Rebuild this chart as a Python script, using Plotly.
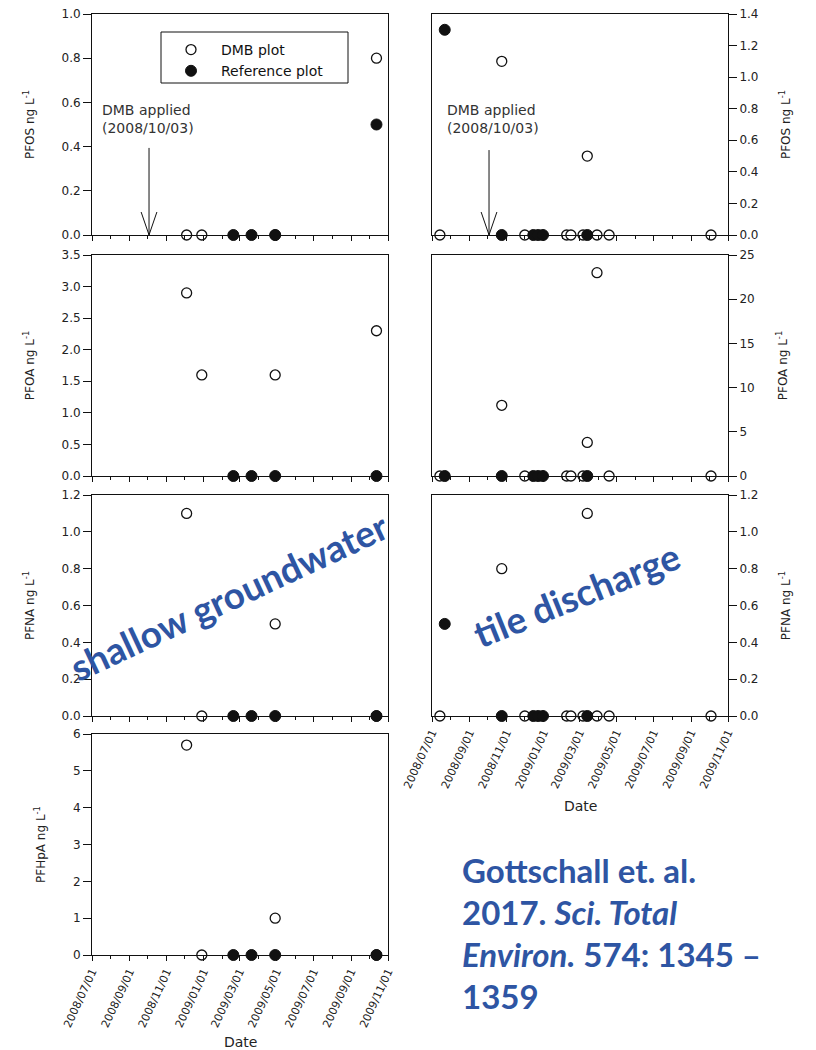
import plotly.graph_objects as go

# ---------------- data ----------------
# shallow groundwater (left column)
gw_dmb_dates = ["2008-12-04", "2008-12-29", "2009-04-29", "2009-10-13"]
gw_ref_dates = ["2009-02-19", "2009-03-21", "2009-04-29", "2009-10-13"]
gw_pfos_dmb = [0.0, 0.0, 0.0, 0.8]
gw_pfos_ref = [0.0, 0.0, 0.0, 0.5]
gw_pfoa_dmb = [2.9, 1.6, 1.6, 2.3]
gw_pfoa_ref = [0.0, 0.0, 0.0, 0.0]
gw_pfna_dmb = [1.1, 0.0, 0.5, 0.0]
gw_pfna_ref = [0.0, 0.0, 0.0, 0.0]
gw_pfhpa_dmb = [5.7, 0.0, 1.0, 0.0]
gw_pfhpa_ref = [0.0, 0.0, 0.0, 0.0]

# tile discharge (right column)
td_dmb_dates = ["2008-07-14", "2008-10-24", "2008-12-01", "2009-02-08", "2009-02-15",
                "2009-03-07", "2009-03-14", "2009-03-30", "2009-04-19", "2009-10-04"]
td_ref_dates = ["2008-07-22", "2008-10-24", "2008-12-15", "2008-12-23", "2008-12-31",
                "2009-03-14"]
td_pfos_dmb = [0.0, 1.1, 0.0, 0.0, 0.0, 0.0, 0.5, 0.0, 0.0, 0.0]
td_pfos_ref = [1.3, 0.0, 0.0, 0.0, 0.0, 0.0]
td_pfoa_dmb = [0.0, 8.0, 0.0, 0.0, 0.0, 0.0, 3.8, 23.0, 0.0, 0.0]
td_pfoa_ref = [0.0, 0.0, 0.0, 0.0, 0.0, 0.0]
td_pfna_dmb = [0.0, 0.8, 0.0, 0.0, 0.0, 0.0, 1.1, 0.0, 0.0, 0.0]
td_pfna_ref = [0.5, 0.0, 0.0, 0.0, 0.0, 0.0]

dmb_applied = "2008-10-03"
x_range = ["2008-07-01", "2009-11-01"]
series_names = ["DMB plot", "Reference plot"]

# ---------------- layout helpers ----------------
W, H = 816, 1050
PAGE_OFF = 8  # default body margin of the html page


def px(x):
    return (x - PAGE_OFF) / W


def py(y):
    return 1 - (y - PAGE_OFF) / H


FONT = "DejaVu Sans, sans-serif"
BLUE = "#2E55A3"

left_x = [px(92), px(388)]
right_x = [px(432), px(728)]
rows_y = [[py(235), py(14)], [py(476), py(255)], [py(716), py(495)], [py(955), py(734)]]

panels = [
    # (col, row, dmb dates, dmb vals, ref dates, ref vals, ymax, dtick, fmt, title, show x labels)
    ("L", 0, gw_dmb_dates, gw_pfos_dmb, gw_ref_dates, gw_pfos_ref, 1.0, 0.2, ".1f", "PFOS ng L<sup>-1</sup>", False),
    ("L", 1, gw_dmb_dates, gw_pfoa_dmb, gw_ref_dates, gw_pfoa_ref, 3.5, 0.5, ".1f", "PFOA ng L<sup>-1</sup>", False),
    ("L", 2, gw_dmb_dates, gw_pfna_dmb, gw_ref_dates, gw_pfna_ref, 1.2, 0.2, ".1f", "PFNA ng L<sup>-1</sup>", False),
    ("L", 3, gw_dmb_dates, gw_pfhpa_dmb, gw_ref_dates, gw_pfhpa_ref, 6, 1, "d", "PFHpA ng L<sup>-1</sup>", True),
    ("R", 0, td_dmb_dates, td_pfos_dmb, td_ref_dates, td_pfos_ref, 1.4, 0.2, ".1f", "PFOS ng L<sup>-1</sup>", False),
    ("R", 1, td_dmb_dates, td_pfoa_dmb, td_ref_dates, td_pfoa_ref, 25, 5, "d", "PFOA ng L<sup>-1</sup>", False),
    ("R", 2, td_dmb_dates, td_pfna_dmb, td_ref_dates, td_pfna_ref, 1.2, 0.2, ".1f", "PFNA ng L<sup>-1</sup>", True),
]

fig = go.Figure()
layout = {}
ytickfont = dict(family=FONT, size=12, color="#222")
xtickfont = dict(family=FONT, size=11, color="#222")

for i, (col, row, dd, dv, rd, rv, ymax, dt, fmt, title, showx) in enumerate(panels):
    n = i + 1
    xa = "x" if n == 1 else f"x{n}"
    ya = "y" if n == 1 else f"y{n}"
    fig.add_trace(go.Scatter(
        x=dd, y=dv, mode="markers", name=series_names[0],
        showlegend=(n == 1), xaxis=xa, yaxis=ya, cliponaxis=False,
        marker=dict(symbol="circle", size=10, color="white",
                    line=dict(color="#111", width=1.3))))
    fig.add_trace(go.Scatter(
        x=rd, y=rv, mode="markers", name=series_names[1],
        showlegend=(n == 1), xaxis=xa, yaxis=ya, cliponaxis=False,
        marker=dict(symbol="circle", size=11, color="#111",
                    line=dict(color="#111", width=1))))
    layout[f"xaxis{n}" if n > 1 else "xaxis"] = dict(
        type="date", range=x_range, domain=left_x if col == "L" else right_x,
        anchor=ya, showline=True, linecolor="#111", linewidth=1, mirror=True,
        ticks="outside", ticklen=5, tickcolor="#111", tickwidth=1,
        dtick="M2", tick0="2008-07-01", tickformat="%Y/%m/%d", tickangle=-65,
        showticklabels=showx, tickfont=xtickfont, automargin=False,
        ticklabeloverflow="allow",
        minor=dict(dtick="M1", tick0="2008-07-01", ticks="outside", ticklen=3,
                   tickcolor="#111", showgrid=False),
        showgrid=False, zeroline=False)
    layout[f"yaxis{n}" if n > 1 else "yaxis"] = dict(
        range=[0, ymax], dtick=dt, tick0=0, tickformat=fmt,
        domain=rows_y[row], anchor=xa, side="left" if col == "L" else "right",
        showline=True, linecolor="#111", linewidth=1, mirror=True,
        ticks="outside", ticklen=8, tickcolor="#111", tickwidth=1,
        tickfont=ytickfont, showgrid=False, zeroline=False, automargin=False,
        ticklabeloverflow="allow",
        title=dict(text=title, font=dict(family=FONT, size=12, color="#222"),
                   standoff=24))

fig.update_layout(**layout)

# DMB applied arrows (vertical line + open V head)
shapes = []
annots = []
for xa, ya, top, ymax, tx in [("x", "y", 0.394, 1.0, 100), ("x5", "y5", 0.538, 1.4, 445)]:
    arm_h = 0.104 * ymax
    shapes.append(dict(type="line", xref=xa, yref=ya, x0=dmb_applied, x1=dmb_applied,
                       y0=top, y1=0, line=dict(color="#111", width=1)))
    for side in ["2008-09-20", "2008-10-16"]:
        shapes.append(dict(type="line", xref=xa, yref=ya, x0=side, x1=dmb_applied,
                           y0=arm_h, y1=0, line=dict(color="#111", width=1)))
    annots.append(dict(xref="paper", yref="paper", x=px(tx), y=py(119), xanchor="left",
                       yanchor="middle", showarrow=False, align="left",
                       text="DMB applied<br>(" + dmb_applied.replace("-", "/") + ")",
                       font=dict(family=FONT, size=14, color="#333")))

# legend frame
shapes.append(dict(type="rect", xref="paper", yref="paper", x0=px(161), x1=px(348),
                   y0=py(83), y1=py(32), line=dict(color="#111", width=1),
                   fillcolor="white", layer="below"))

# Date axis titles
annots.append(dict(xref="paper", yref="paper", x=px(240), y=py(1042), showarrow=False,
                   xanchor="center", yanchor="middle",
                   text="Date", font=dict(family=FONT, size=14, color="#222")))
annots.append(dict(xref="paper", yref="paper", x=px(580), y=py(806), showarrow=False,
                   xanchor="center", yanchor="middle",
                   text="Date", font=dict(family=FONT, size=14, color="#222")))

# overlay labels
annots.append(dict(xref="paper", yref="paper", x=px(228), y=py(596), showarrow=False,
                   xanchor="center", yanchor="middle",
                   text="<b>shallow groundwater</b>", textangle=-25,
                   font=dict(family="Lato", size=37, color=BLUE)))
annots.append(dict(xref="paper", yref="paper", x=px(576), y=py(594), showarrow=False,
                   xanchor="center", yanchor="middle",
                   text="<b>tile discharge</b>", textangle=-22,
                   font=dict(family="Lato", size=37, color=BLUE)))

# citation
cite_lines = ["<b>Gottschall et. al.</b>",
              "<b>2017. <i>Sci. Total</i></b>",
              "<b><i>Environ.</i> 574: 1345 –</b>",
              "<b>1359</b>"]
for k, line in enumerate(cite_lines):
    annots.append(dict(xref="paper", yref="paper", x=px(460), y=py(870 + 42 * k),
                       xanchor="left", yanchor="middle", showarrow=False, text=line,
                       font=dict(family="Lato", size=33, color=BLUE)))

fig.update_layout(
    width=W, height=H, margin=dict(l=0, r=0, t=0, b=0, autoexpand=False),
    paper_bgcolor="white", plot_bgcolor="white",
    shapes=shapes, annotations=annots,
    legend=dict(x=px(161), y=py(34), xanchor="left", yanchor="top",
                borderwidth=0, bgcolor="rgba(0,0,0,0)",
                font=dict(family=FONT, size=14, color="#111"),
                itemwidth=50, tracegroupgap=0),
)

fig.write_html("out.html")
